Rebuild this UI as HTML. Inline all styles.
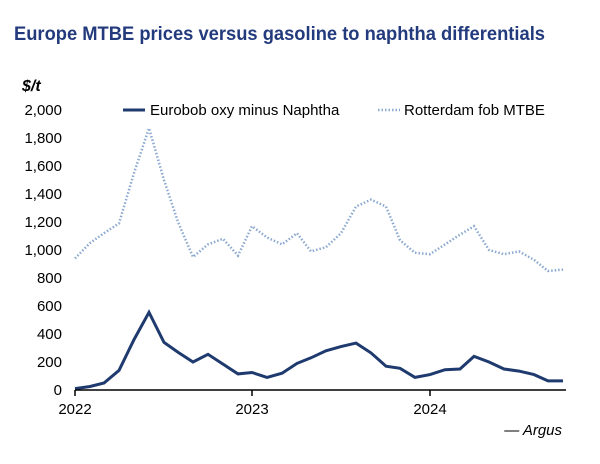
<!DOCTYPE html>
<html><head><meta charset="utf-8"><style>
body{margin:0;background:#fff;}
svg{display:block;font-family:"Liberation Sans",sans-serif;}
</style></head><body>
<svg width="600" height="464" viewBox="0 0 600 464">
<text x="14" y="40" font-size="19" font-weight="bold" fill="#233b7d" textLength="531" lengthAdjust="spacingAndGlyphs">Europe MTBE prices versus gasoline to naphtha differentials</text>
<text x="22" y="91" font-size="16" font-weight="bold" font-style="italic" fill="#000">$/t</text>
<g font-size="15" fill="#000" text-anchor="end">
<text x="62" y="115">2,000</text>
<text x="62" y="143">1,800</text>
<text x="62" y="171">1,600</text>
<text x="62" y="199">1,400</text>
<text x="62" y="227">1,200</text>
<text x="62" y="255">1,000</text>
<text x="62" y="283">800</text>
<text x="62" y="311">600</text>
<text x="62" y="339">400</text>
<text x="62" y="367">200</text>
<text x="62" y="395">0</text>
</g>
<g font-size="15" fill="#000" text-anchor="middle">
<text x="75" y="414">2022</text>
<text x="252" y="414">2023</text>
<text x="430" y="414">2024</text>
</g>
<line x1="123" y1="110" x2="145" y2="110" stroke="#1f3a6e" stroke-width="3"/>
<text x="150" y="115" font-size="15" fill="#000">Eurobob oxy minus Naphtha</text>
<line x1="378" y1="110" x2="400" y2="110" stroke="#8aa8d0" stroke-width="2.5" stroke-dasharray="1.5,2"/>
<text x="404" y="115" font-size="15" fill="#000">Rotterdam fob MTBE</text>
<g transform="translate(0,390) scale(1,-0.14)">
<polyline fill="none" stroke="#8aa8d0" stroke-width="2.5" stroke-dasharray="1.5,2" vector-effect="non-scaling-stroke" points="75,940 90,1050 104,1120 119,1190 134,1550 149,1870 164,1500 178,1200 193,950 208,1040 223,1080 238,960 252,1170 267,1090 282,1040 297,1120 311,990 326,1020 341,1120 356,1310 371,1360 386,1310 400,1070 415,980 430,970 445,1040 460,1110 474,1170 489,1000 504,970 519,990 534,930 548,850 563,860"/>
<polyline fill="none" stroke="#1f3a6e" stroke-width="3" vector-effect="non-scaling-stroke" points="75,10 90,25 104,50 119,140 134,360 149,555 164,340 178,270 193,200 208,255 223,185 238,115 252,125 267,90 282,120 297,190 311,230 326,280 341,310 356,335 371,265 386,170 400,155 415,90 430,110 445,145 460,150 474,240 489,200 504,150 519,135 534,110 548,65 563,65"/>
</g>
<line x1="75" y1="390" x2="566" y2="390" stroke="#000" stroke-width="1.5"/>
<g stroke="#000" stroke-width="1.5">
<line x1="75" y1="390" x2="75" y2="396"/>
<line x1="252" y1="390" x2="252" y2="396"/>
<line x1="430" y1="390" x2="430" y2="396"/>
</g>
<text x="562" y="435" font-size="15" font-style="italic" text-anchor="end" fill="#000">— Argus</text>
</svg>
</body></html>
